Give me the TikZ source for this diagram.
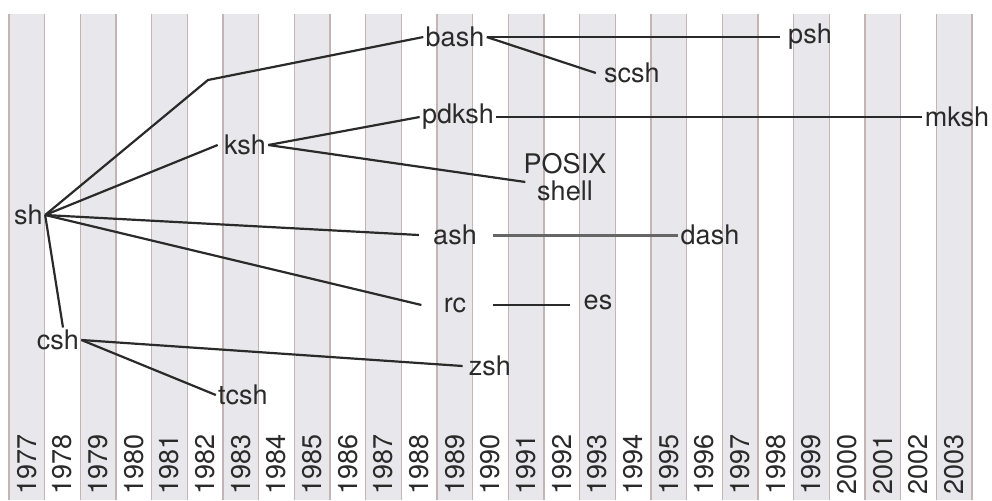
\documentclass[tikz,border=0pt]{standalone}
\usepackage{fontspec}
\setmainfont{TeX Gyre Heros}

\definecolor{bandgrey}{HTML}{E8E8EC}
\definecolor{bandline}{HTML}{C4B4B4}
\definecolor{inkgrey}{HTML}{2A2A2A}

\begin{document}
\begin{tikzpicture}[x=0.5pt, y=-0.5pt,
    every node/.style={font=\fontsize{13.5}{13.5}\selectfont, text=inkgrey, inner sep=1pt, align=center},
    branch/.style={line width=1.1pt, draw=inkgrey},
    thickbranch/.style={line width=1.5pt, draw=black!60}]

    \useasboundingbox (0,0) rectangle (992,500);

    % year columns
    \foreach \i in {0,...,26} {
        \pgfmathsetmacro\xl{9+\i*35.667}
        \pgfmathtruncatemacro\yr{1977+\i}
        \ifodd\i\else
            \fill[bandgrey] (\xl,14) rectangle (\xl+35.667,500);
        \fi
        \node[rotate=90, anchor=west] (y\yr) at (\xl+17.8,497) {\yr};
    }
    \foreach \i in {0,...,27}
        \draw[bandline, line width=0.6pt] (9+\i*35.667,14) -- (9+\i*35.667,500);

    \node (sh) at (28.5,215) {sh};
    \node (ksh) at (245,145) {ksh};
    \node (bash) at (455,37) {bash};
    \node (psh) at (810,37) {psh};
    \node (scsh) at (632,73) {scsh};
    \node (pdksh) at (458,117) {pdksh};
    \node (mksh) at (957,117) {mksh};
    \node (posix) at (565,177) {POSIX\\shell};
    \node (ash) at (455,235) {ash};
    \node (dash) at (710,235) {dash};
    \node (rc) at (455,305) {rc};
    \node (es) at (598,302) {es};
    \node (zsh) at (490,366) {zsh};
    \node (csh) at (58,340) {csh};
    \node (tcsh) at (243,395) {tcsh};
    \coordinate (bend) at (208,80);

    \draw[branch] (sh.east) -- (bend) -- (bash.west);
    \draw[branch] (sh.east) -- ([xshift=-2pt]ksh.west);
    \draw[branch] (sh.east) -- ([xshift=-6pt]ash.west);
    \draw[branch] (sh.east) -- ([xshift=-10pt]rc.west);
    \draw[branch] (sh.east) -- ([xshift=2.5pt]csh.north);
    \draw[branch] (ksh.east) -- (pdksh.west);
    \draw[branch] (ksh.east) -- ([xshift=2pt,yshift=-2.5pt]posix.west);
    \draw[branch] (bash.east) -- ([xshift=-3pt]psh.west);
    \draw[branch] (bash.east) -- ([xshift=-3pt]scsh.west);
    \draw[branch] (pdksh.east) -- (mksh.west);
    \draw[thickbranch] ([xshift=7pt]ash.east) -- (dash.west);
    \draw[branch] ([xshift=12pt]rc.east) -- ([xshift=-5.5pt]es.west |- rc.east);
    \draw[branch] (csh.east) -- ([xshift=-2pt]zsh.west);
    \draw[branch] (csh.east) -- (tcsh.west);

\end{tikzpicture}
\end{document}
